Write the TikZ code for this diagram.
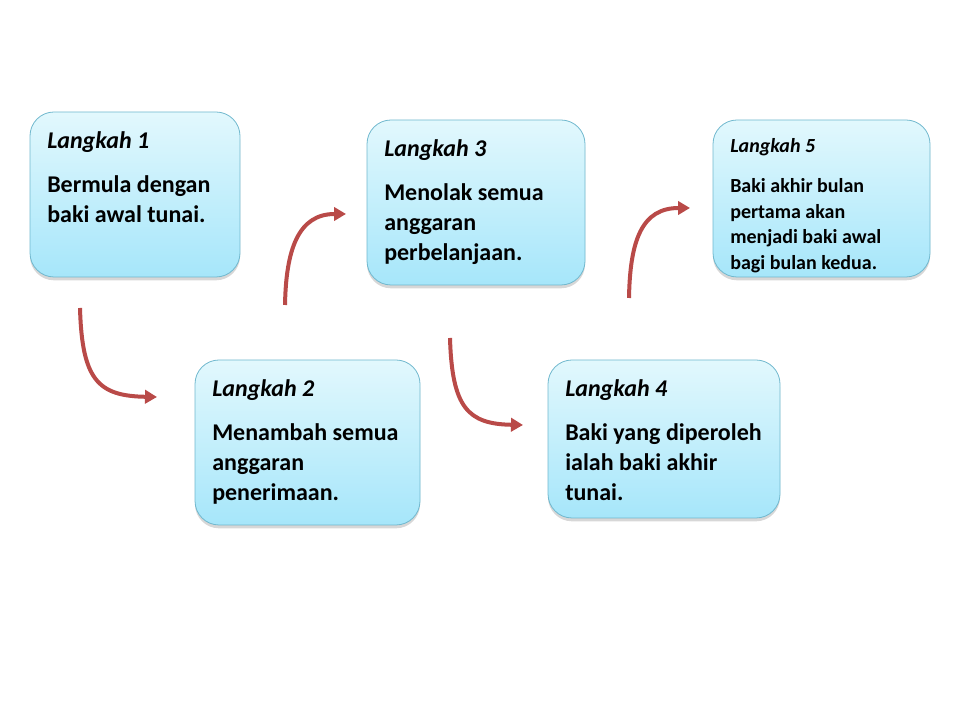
\documentclass[tikz,border=0pt]{standalone}
\usepackage{fontspec}
\setmainfont{Carlito}
\usetikzlibrary{arrows.meta,shadows}
\definecolor{boxtop}{RGB}{226,248,253}
\definecolor{boxbot}{RGB}{166,230,250}
\definecolor{boxline}{RGB}{112,184,206}
\definecolor{arrowred}{RGB}{185,74,72}
\tikzstyle{stepbox} = [rectangle, rounded corners=18pt, draw=boxline, line width=0.6pt,
  top color=boxtop, bottom color=boxbot,
  drop shadow={shadow xshift=0pt, shadow yshift=-2.5pt, opacity=0.35, fill=black!45}]
\tikzstyle{steptext} = [anchor=north west, inner sep=0pt, align=left, font=\bfseries\fontsize{18}{22.5}\selectfont]
\tikzstyle{smalltext} = [anchor=north west, inner sep=0pt, align=left, font=\bfseries\fontsize{15}{19.3}\selectfont]
\tikzstyle{flow} = [arrowred, line width=3pt, -{Triangle[length=9pt,width=10pt]}]

\begin{document}
\begin{tikzpicture}[x=0.75pt,y=0.75pt]
      \useasboundingbox (0,0) rectangle (960,720);
      % boxes
      \node[stepbox, minimum width=210*0.75pt, minimum height=165*0.75pt] (b1) at (135,525.5) {};
      \node[stepbox, minimum width=225*0.75pt, minimum height=165*0.75pt] (b2) at (307.5,277.5) {};
      \node[stepbox, minimum width=218*0.75pt, minimum height=165*0.75pt] (b3) at (476,517.5) {};
      \node[stepbox, minimum width=232*0.75pt, minimum height=158*0.75pt] (b4) at (664,281) {};
      \node[stepbox, minimum width=217*0.75pt, minimum height=157*0.75pt] (b5) at (821.5,521.5) {};
      % texts
      \node[steptext] (t1) at (47,589) {\textit{Langkah 1}\\[10.5pt]Bermula dengan\\baki awal tunai.};
      \node[steptext] (t2) at (212,341) {\textit{Langkah 2}\\[10.5pt]Menambah semua\\anggaran\\penerimaan.};
      \node[steptext] (t3) at (384,581) {\textit{Langkah 3}\\[10.5pt]Menolak semua\\anggaran\\perbelanjaan.};
      \node[steptext] (t4) at (565,341) {\textit{Langkah 4}\\[10.5pt]Baki yang diperoleh\\ialah baki akhir\\tunai.};
      \node[smalltext] (t5) at (730,582) {\textit{Langkah 5}\\[10.7pt]Baki akhir bulan\\pertama akan\\menjadi baki awal\\bagi bulan kedua.};
      % arrows
      \coordinate (a1s) at (80,412);   \coordinate (a1e) at (157,323);
      \coordinate (a2s) at (285,415);  \coordinate (a2e) at (346,506);
      \coordinate (a3s) at (450,382);  \coordinate (a3e) at (523,295);
      \coordinate (a4s) at (629,422);  \coordinate (a4e) at (690,512);
      \draw[flow] (a1s) .. controls (82,340) and (98,324) .. (a1e);
      \draw[flow] (a2s) .. controls (286,470) and (298,506) .. (a2e);
      \draw[flow] (a3s) .. controls (452,312) and (468,296) .. (a3e);
      \draw[flow] (a4s) .. controls (630,480) and (642,512) .. (a4e);
\end{tikzpicture}
\end{document}
